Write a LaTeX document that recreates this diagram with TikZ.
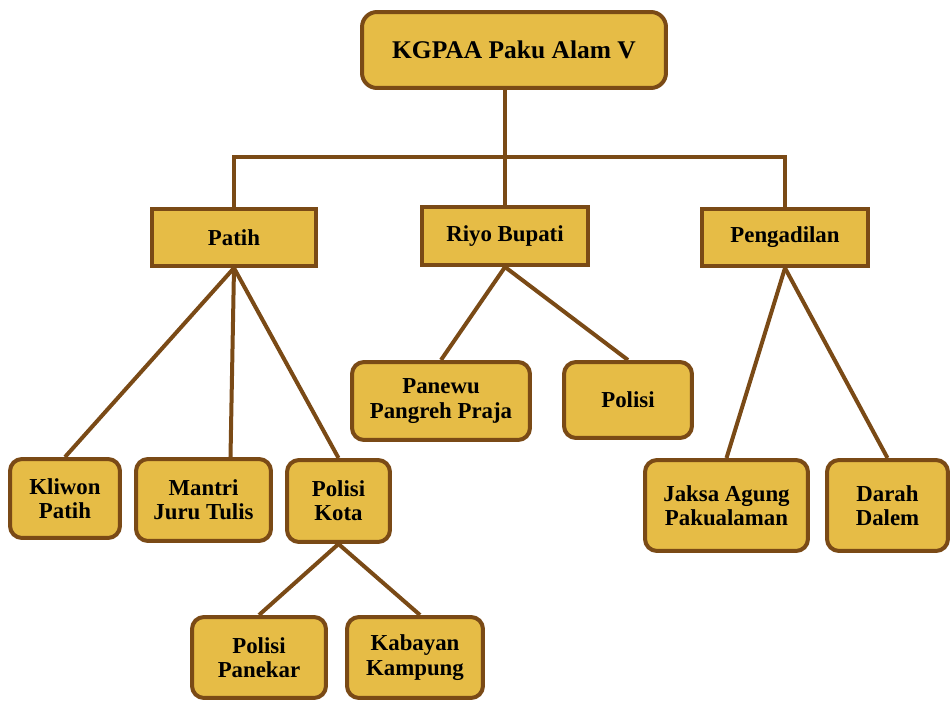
\documentclass[tikz,border=0pt]{standalone}
\usepackage{fontspec}
\setmainfont{Liberation Serif}
\usepackage{tikz}
\definecolor{gold}{RGB}{230,188,70}
\definecolor{bark}{RGB}{122,74,22}
\tikzset{
  box/.style={draw=bark, fill=gold, line width=0.08cm, inner sep=0pt, align=center,
    font=\bfseries\fontsize{13}{13.8}\selectfont},
  rbox/.style={box, rounded corners=0.24cm},
  link/.style={draw=bark, line width=0.08cm}
}

\begin{document}
\begin{tikzpicture}[x=0.02cm, y=-0.02cm]
  \useasboundingbox (0,0) rectangle (951,703);
  \node[rbox, rounded corners=0.3cm, minimum width=6.08cm, minimum height=1.52cm,
    font=\bfseries\fontsize{14.5}{16}\selectfont] (root) at (514,50) {KGPAA Paku Alam V};
  \node[box, minimum width=3.28cm, minimum height=1.14cm] (patih) at (234,237.5) {Patih};
  \node[box, minimum width=3.32cm, minimum height=1.16cm] (riyo) at (505,236) {Riyo Bupati};
  \node[box, minimum width=3.32cm, minimum height=1.14cm] (peng) at (785,237.5) {Pengadilan};
  \node[rbox, minimum width=3.56cm, minimum height=1.56cm] (panewu) at (441,401) {Panewu\\Pangreh Praja};
  \node[rbox, minimum width=2.56cm, minimum height=1.52cm] (polisi) at (628,400) {Polisi};
  \node[rbox, minimum width=2.20cm, minimum height=1.58cm] (kliwon) at (65,498.5) {Kliwon\\Patih};
  \node[rbox, minimum width=2.70cm, minimum height=1.64cm] (mantri) at (203.5,500) {Mantri\\Juru Tulis};
  \node[rbox, minimum width=2.06cm, minimum height=1.64cm] (pkota) at (338.5,501) {Polisi\\Kota};
  \node[rbox, minimum width=2.68cm, minimum height=1.62cm] (panekar) at (259,657.5) {Polisi\\Panekar};
  \node[rbox, minimum width=2.72cm, minimum height=1.62cm] (kabayan) at (415,657.5) {Kabayan\\Kampung};
  \node[rbox, minimum width=3.26cm, minimum height=1.82cm] (jaksa) at (726.5,505.5) {Jaksa Agung\\Pakualaman};
  \node[rbox, minimum width=2.42cm, minimum height=1.82cm] (darah) at (887.5,505.5) {Darah\\Dalem};
  \coordinate (bar) at (505,157);
  % top level
  \draw[link] (root.south -| riyo.north) -- (riyo.north);
  \draw[link] (patih.north) |- (bar) -| (peng.north);
  % branches
  \draw[link] (patih.south) -- (kliwon.north);
  \draw[link] (patih.south) -- ([xshift=0.54cm]mantri.north);
  \draw[link] (patih.south) -- (pkota.north);
  \draw[link] (riyo.south) -- (panewu.north);
  \draw[link] (riyo.south) -- (polisi.north);
  \draw[link] (peng.south) -- (jaksa.north);
  \draw[link] (peng.south) -- (darah.north);
  \draw[link] (pkota.south) -- (panekar.north);
  \draw[link] (pkota.south) -- ([xshift=0.1cm]kabayan.north);
\end{tikzpicture}
\end{document}
